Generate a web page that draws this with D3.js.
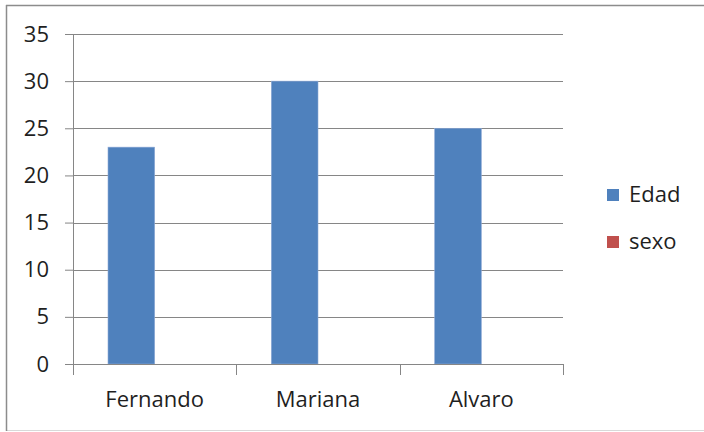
<!DOCTYPE html>
<html>
<head>
<meta charset="utf-8">
<script src="https://cdn.jsdelivr.net/npm/d3@7"></script>
<style>
  body { margin: 0; background: #fff; }
  text { font-family: "Open Sans", sans-serif; fill: #1f1f1f; }
</style>
</head>
<body>
<svg id="chart" width="704" height="432"></svg>
<script>
// data
var names = ["Fernando", "Mariana", "Alvaro"];
var seriesNames = ["Edad", "sexo"];
var edad = [23, 30, 25];
var sexo = [0, 0, 0];
var yTicks = [0, 5, 10, 15, 20, 25, 30, 35];
var seriesColors = ["#4f81bd", "#c0504d"];

var svg = d3.select("#chart");

// chart frame
svg.append("rect").attr("x", 6.5).attr("y", 5.5).attr("width", 710).attr("height", 425)
  .attr("fill", "#fff").attr("stroke", "#d9d9d9");
svg.append("line").attr("x1", 6.5).attr("x2", 6.5).attr("y1", 5).attr("y2", 431)
  .attr("stroke", "#8c8c8c").attr("stroke-width", 1.5);
svg.append("line").attr("x1", 6).attr("x2", 704).attr("y1", 5.5).attr("y2", 5.5)
  .attr("stroke", "#8c8c8c").attr("stroke-width", 1.5);

var plot = { left: 73, right: 563, top: 34, bottom: 364 };

var x0 = d3.scaleBand().domain(names).range([plot.left, plot.right])
  .paddingInner(1.5 / 3.5).paddingOuter(0.75 / 3.5);
var x1 = d3.scaleBand().domain(seriesNames).range([0, x0.bandwidth()]);
var y = d3.scaleLinear().domain([0, 35]).range([plot.bottom, plot.top]);
var step = x0.step();

// y axis
var yAxis = d3.axisLeft(y).tickValues(yTicks).tickSize(8).tickPadding(16);
var gy = svg.append("g").attr("transform", "translate(" + plot.left + ",0)").call(yAxis);
gy.select(".domain").attr("stroke", "#868686");
gy.selectAll(".tick line").attr("stroke", "#868686");
gy.selectAll(".tick text").attr("font-size", 22).attr("fill", "#1f1f1f")
  .attr("font-family", "Open Sans");

// gridlines
svg.append("g").selectAll("line").data(yTicks.filter(function (d) { return d > 0; }))
  .enter().append("line")
    .attr("x1", plot.left).attr("x2", plot.right)
    .attr("y1", function (d) { return Math.round(y(d)) + 0.5; })
    .attr("y2", function (d) { return Math.round(y(d)) + 0.5; })
    .attr("stroke", "#868686");

// bars
var rows = names.map(function (n, i) { return { name: n, values: [edad[i], sexo[i]] }; });
var groups = svg.append("g").selectAll("g").data(rows).enter().append("g")
  .attr("transform", function (d) { return "translate(" + x0(d.name) + ",0)"; });
groups.selectAll("rect").data(function (d) {
    return d.values.map(function (v, j) { return { key: seriesNames[j], value: v, color: seriesColors[j] }; });
  })
  .enter().append("rect")
    .attr("x", function (d) { return x1(d.key); })
    .attr("width", x1.bandwidth())
    .attr("y", function (d) { return y(d.value); })
    .attr("height", function (d) { return y(0) - y(d.value); })
    .attr("fill", function (d) { return d.color; })
    .attr("stroke", "#8eaad6").attr("stroke-width", 0.6);

// x axis with category boundaries
var xAxisLine = svg.append("g");
xAxisLine.append("line").attr("x1", plot.left - 8).attr("x2", plot.right)
  .attr("y1", plot.bottom + 0.5).attr("y2", plot.bottom + 0.5).attr("stroke", "#868686");
xAxisLine.selectAll(".sep").data(d3.range(names.length + 1)).enter().append("line")
  .attr("x1", function (i) { return Math.round(plot.left + i * step) + 0.5; })
  .attr("x2", function (i) { return Math.round(plot.left + i * step) + 0.5; })
  .attr("y1", plot.bottom).attr("y2", plot.bottom + 11)
  .attr("stroke", "#868686");

svg.append("g").selectAll("text").data(names).enter().append("text")
  .attr("x", function (d, i) { return plot.left + (i + 0.5) * step; })
  .attr("y", 407)
  .attr("text-anchor", "middle")
  .attr("font-size", 22)
  .text(function (d) { return d; });

// legend
var legend = svg.append("g").selectAll("g").data(seriesNames).enter().append("g")
  .attr("transform", function (d, i) { return "translate(607," + (189 + i * 47) + ")"; });
legend.append("rect").attr("width", 12).attr("height", 12)
  .attr("fill", function (d, i) { return seriesColors[i]; });
legend.append("text").attr("x", 22).attr("y", 13).attr("font-size", 22)
  .text(function (d) { return d; });
</script>
</body>
</html>
